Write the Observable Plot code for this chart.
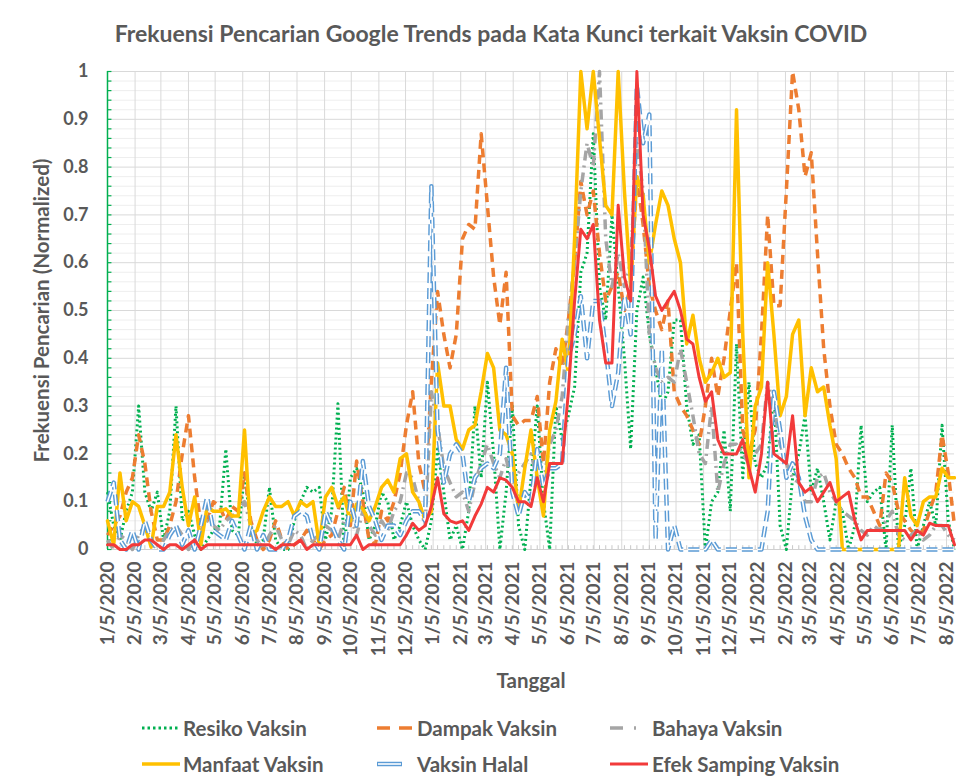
<!DOCTYPE html>
<html><head><meta charset="utf-8">
<script src="https://cdn.jsdelivr.net/npm/d3@7"></script>
<script src="https://cdn.jsdelivr.net/npm/@observablehq/plot@0.6"></script>
<style>
body{margin:0;background:#fff;}
#wrap{position:relative;width:956px;height:783px;font-family:Lato,"Open Sans",sans-serif;color:#595959;overflow:hidden;background:#fff}
#chart{position:absolute;left:0;top:0}
.leg{position:absolute;display:flex;align-items:center;font-weight:bold;font-size:20.5px;white-space:nowrap;height:26px}
</style></head>
<body><div id="wrap"><div id="chart"></div><div id="legend"></div></div>
<script>
// ---- data ----
const titleText = "Frekuensi Pencarian Google Trends pada Kata Kunci terkait Vaksin COVID";
const yTitle = "Frekuensi Pencarian (Normalized)";
const xTitle = "Tanggal";
const xTickLabels = ["1/5/2020","2/5/2020","3/5/2020","4/5/2020","5/5/2020","6/5/2020","7/5/2020","8/5/2020","9/5/2020","10/5/2020","11/5/2020","12/5/2020",
"1/5/2021","2/5/2021","3/5/2021","4/5/2021","5/5/2021","6/5/2021","7/5/2021","8/5/2021","9/5/2021","10/5/2021","11/5/2021","12/5/2021",
"1/5/2022","2/5/2022","3/5/2022","4/5/2022","5/5/2022","6/5/2022","7/5/2022","8/5/2022"];
const yTickLabels = ["0","0.1","0.2","0.3","0.4","0.5","0.6","0.7","0.8","0.9","1"];
const yMinorTicks = [0.02,0.04,0.06,0.08,0.12,0.14,0.16,0.18,0.22,0.24,0.26,0.28,0.32,0.34,0.36,0.38,0.42,0.44,0.46,0.48,0.52,0.54,0.56,0.58,0.62,0.64,0.66,0.68,0.72,0.74,0.76,0.78,0.82,0.84,0.86,0.88,0.92,0.94,0.96,0.98];

// weekly Google Trends values, week starting 2020-01-05
const resiko = [0.12,0.05,0.02,0.08,0.12,0.30,0.12,0.08,0.12,0.02,0.08,0.30,0.06,0.08,0.03,0.0,0.02,0.04,0.05,0.21,0.04,0.03,0.16,0.05,
0.01,0.02,0.13,0.02,0.0,0.0,0.06,0.10,0.13,0.12,0.13,0.02,0.08,0.305,0.0,0.15,0.17,0.12,0.02,0.05,
0.12,0.10,0.02,0.05,0.10,0.05,0.02,0.0,0.06,0.21,0.12,0.02,0.05,0.0,0.08,0.30,0.15,0.35,0.20,0.0,0.12,0.30,
0.05,0.0,0.15,0.30,0.10,0.0,0.30,0.23,0.28,0.34,0.58,0.62,0.87,0.55,0.48,0.70,0.55,0.40,0.21,0.50,0.57,0.45,0.38,0.30,0.33,
0.48,0.48,0.30,0.22,0.24,0.0,0.10,0.12,0.25,0.08,0.43,0.15,0.35,0.18,0.15,0.18,0.33,0.05,0.0,0.15,0.20,0.28,
0.12,0.17,0.10,0.02,0.10,0.08,0.0,0.05,0.26,0.10,0.12,0.13,0.0,0.26,0.0,0.05,0.17,0.0,0.05,0.10,0.05,0.26,0.06,0.0];
const dampak = [0.03,0.05,0.07,0.12,0.15,0.24,0.18,0.08,0.02,0.02,0.05,0.10,0.20,0.28,0.15,0.05,0.06,0.10,0.09,0.06,0.09,0.08,0.16,0.06,
0.02,0.0,0.02,0.06,0.02,0.0,0.01,0.02,0.04,0.02,0.0,0.02,0.03,0.08,0.13,0.05,0.185,0.10,0.02,0.01,
0.08,0.06,0.10,0.16,0.26,0.33,0.18,0.12,0.35,0.54,0.45,0.38,0.45,0.65,0.68,0.67,0.87,0.72,0.57,0.47,0.58,0.28,
0.26,0.27,0.27,0.32,0.18,0.35,0.42,0.38,0.48,0.60,0.77,0.70,0.75,0.62,0.52,0.55,0.58,0.50,0.55,0.78,0.68,0.55,0.50,0.46,0.52,
0.33,0.30,0.28,0.25,0.22,0.30,0.40,0.32,0.40,0.50,0.60,0.25,0.20,0.25,0.45,0.70,0.51,0.51,0.75,1.0,0.92,0.78,
0.83,0.62,0.42,0.30,0.22,0.20,0.17,0.15,0.11,0.11,0.08,0.05,0.16,0.14,0.08,0.06,0.04,0.03,0.04,0.08,0.12,0.24,0.16,0.05];
const bahaya = [0.02,0.0,0.03,0.02,0.0,0.03,0.05,0.02,0.0,0.02,0.04,0.05,0.03,0.0,0.02,0.04,0.06,0.05,0.04,0.06,0.07,0.08,0.10,0.05,
0.02,0.0,0.03,0.05,0.02,0.01,0.04,0.03,0.0,0.02,0.03,0.05,0.04,0.02,0.06,0.07,0.03,0.08,0.05,0.03,
0.06,0.04,0.08,0.10,0.16,0.15,0.10,0.05,0.33,0.26,0.17,0.14,0.11,0.12,0.08,0.14,0.18,0.22,0.18,0.15,0.19,0.14,
0.16,0.18,0.20,0.15,0.14,0.22,0.25,0.32,0.48,0.60,0.75,0.85,0.80,1.0,0.65,0.55,0.62,0.55,0.60,0.85,0.75,0.45,0.38,0.35,0.36,
0.35,0.42,0.35,0.28,0.20,0.18,0.30,0.12,0.18,0.22,0.22,0.20,0.18,0.20,0.22,0.35,0.30,0.22,0.18,0.15,0.14,0.10,
0.10,0.15,0.16,0.12,0.10,0.08,0.07,0.06,0.04,0.03,0.05,0.04,0.06,0.08,0.03,0.02,0.03,0.04,0.02,0.03,0.05,0.05,0.03,0.02];
const manfaat = [0.06,0.01,0.16,0.06,0.10,0.09,0.05,0.005,0.09,0.09,0.12,0.24,0.13,0.05,0.11,0.01,0.09,0.08,0.08,0.085,0.07,0.07,0.25,0.03,
0.04,0.08,0.11,0.09,0.09,0.10,0.07,0.10,0.09,0.10,0.01,0.11,0.13,0.09,0.11,0.06,0.095,0.085,0.06,0.09,
0.13,0.145,0.12,0.19,0.20,0.12,0.10,0.06,0.08,0.39,0.30,0.30,0.23,0.21,0.25,0.26,0.33,0.41,0.38,0.25,0.24,0.20,
0.08,0.17,0.25,0.15,0.07,0.25,0.31,0.44,0.37,0.65,1.0,0.88,1.0,0.86,0.72,0.70,1.0,0.75,0.55,0.78,0.74,0.60,0.68,0.75,0.72,
0.65,0.60,0.43,0.49,0.40,0.35,0.37,0.40,0.36,0.37,0.92,0.45,0.15,0.30,0.34,0.60,0.45,0.28,0.32,0.45,0.48,0.28,
0.38,0.33,0.34,0.26,0.19,0.0,0,0,0,0,0,0,0,0,0,0.15,0.07,0.05,0.10,0.11,0.11,0.17,0.15,0.15];
const halal = [0.10,0.14,0.02,0.0,0.04,0.0,0.06,0.02,0.0,0.0,0.03,0.05,0.01,0.04,0.0,0.05,0.11,0.04,0.03,0.02,0.06,0.03,0.0,0.05,
0.0,0.03,0.0,0.0,0.0,0.02,0.07,0.08,0.07,0.02,0.0,0.08,0.05,0.02,0.0,0.10,0.05,0.185,0.09,0.06,
0.02,0.05,0.05,0.03,0.06,0.08,0.08,0.06,0.76,0.25,0.14,0.20,0.22,0.20,0.10,0.15,0.17,0.18,0.17,0.20,0.38,0.12,
0.07,0.12,0.10,0.21,0.13,0.17,0.17,0.18,0.40,0.45,0.53,0.40,0.52,0.52,0.42,0.30,0.37,0.53,0.45,0.97,0.85,0.91,0.02,0.42,0.0,
0.05,0.0,0.0,0.0,0.0,0.0,0.02,0.0,0.0,0.0,0.0,0.0,0.0,0.0,0.0,0.08,0.33,0.25,0.15,0.18,0.15,0.07,
0.02,0,0,0,0,0,0,0,0,0,0,0,0,0,0,0,0,0,0,0,0,0,0,0];
const efek = [0.01,0.01,0.0,0.0,0.01,0.01,0.02,0.02,0.01,0.0,0.01,0.01,0.0,0.01,0.02,0.0,0.01,0.01,0.01,0.01,0.01,0.01,0.01,0.01,
0.01,0.01,0.01,0.0,0.01,0.01,0.01,0.02,0.0,0.01,0.01,0.01,0.01,0.01,0.01,0.01,0.03,0.0,0.01,0.01,
0.01,0.01,0.01,0.01,0.03,0.055,0.04,0.05,0.09,0.15,0.075,0.06,0.055,0.06,0.04,0.07,0.095,0.13,0.12,0.15,0.145,0.13,
0.10,0.10,0.09,0.15,0.10,0.18,0.18,0.18,0.33,0.52,0.67,0.65,0.68,0.48,0.39,0.39,0.72,0.57,0.52,1.0,0.70,0.63,0.53,0.50,0.52,
0.54,0.50,0.44,0.43,0.36,0.31,0.33,0.23,0.20,0.20,0.20,0.23,0.17,0.12,0.20,0.35,0.20,0.19,0.18,0.28,0.14,0.12,
0.13,0.10,0.12,0.14,0.10,0.11,0.12,0.06,0.02,0.04,0.04,0.04,0.04,0.04,0.04,0.04,0.02,0.04,0.03,0.055,0.05,0.05,0.05,0.01];

const seriesNames = ["Resiko Vaksin","Dampak Vaksin","Bahaya Vaksin","Manfaat Vaksin","Vaksin Halal","Efek Samping Vaksin"];

// ---- build ----
const dates = d3.utcWeek.range(new Date(Date.UTC(2020,0,5)), new Date(Date.UTC(2022,7,15)));
const rows = vals => vals.slice(0, dates.length).map((v,i)=>({date: dates[i], value: v}));
const tickDates = xTickLabels.map(s => { const [m,d,y] = s.split("/").map(Number); return new Date(Date.UTC(y, m-1, d)); });
const labelByTime = new Map(tickDates.map((d,i)=>[+d, xTickLabels[i]]));
const yTicks = yTickLabels.map(Number);
const gray = "#595959";

const styles = [
  {vals: resiko, stroke:"#00b050", w:3, dash:"2 3", cap:"butt", legDash:"2.5 3"},
  {vals: dampak, stroke:"#ed7d31", w:3.5, dash:"9 6", cap:"butt", legDash:"13 9"},
  {vals: bahaya, stroke:"#a5a5a5", w:3.5, dash:"10 5 2 5", cap:"butt", legDash:"13 11 2 20"},
  {vals: manfaat, stroke:"#ffc000", w:3.5, dash:null, cap:"round"},
  {vals: halal, stroke:"#5b9bd5", w:4.5, dash:"11 5", cap:"butt", double:true},
  {vals: efek, stroke:"#f23a3a", w:3, dash:null, cap:"round"}
];

const lineMarks = [];
for (const s of styles) {
  const data = rows(s.vals);
  const opts = {x:"date", y:"value", stroke:s.stroke, strokeWidth:s.w, strokeLinecap:s.cap, strokeLinejoin:"round"};
  if (s.dash) opts.strokeDasharray = s.dash;
  lineMarks.push(Plot.line(data, opts));
  if (s.double) lineMarks.push(Plot.line(data, {x:"date", y:"value", stroke:"white", strokeWidth:1.6, strokeDasharray:s.dash, strokeLinejoin:"round"}));
}

const chart = Plot.plot({
  width: 956, height: 700,
  marginLeft: 107, marginRight: 2, marginTop: 71, marginBottom: 151,
  x: {type:"utc", domain:[dates[0], dates[dates.length-1]]},
  y: {domain:[0,1]},
  style: {fontFamily:"Lato, 'Open Sans', sans-serif", color: gray, background:"white", overflow:"visible"},
  marks: [
    Plot.gridY({ticks: yMinorTicks, stroke:"#eeeeee", strokeOpacity:1}),
    Plot.gridY({ticks: yTicks, stroke:"#d9d9d9", strokeOpacity:1}),
    Plot.gridX({ticks: tickDates, stroke:"#d9d9d9", strokeOpacity:1}),
    Plot.ruleX(dates, {y1:0, y2:0.008, stroke:"#c8c8c8"}),
    Plot.ruleY([0], {stroke:"#d0d0d0"}),
    Plot.ruleY(yMinorTicks.concat(yTicks), {x1: dates[0], x2: d3.utcDay.offset(dates[0], 5), stroke:"#00b050", strokeWidth:1.2}),
    Plot.ruleX([dates[0]], {stroke:"#00b050", strokeWidth:1.5}),
    Plot.axisY({ticks: yTicks, tickFormat: d => yTickLabels[yTicks.indexOf(d)], tickSize:0, tickPadding:19, fontSize:18, fontWeight:"bold", fill:gray, label:null}),
    Plot.axisX({ticks: tickDates, tickFormat: d => labelByTime.get(+d), tickRotate:-90, tickSize:0, tickPadding:12, fontSize:19, fontWeight:"bold", fill:gray, label:null}),
    ...lineMarks,
    Plot.text([titleText], {frameAnchor:"top", dx:-40, dy:-37, lineAnchor:"middle", fontSize:23, fontWeight:"bold", fill:gray}),
    Plot.text([yTitle], {frameAnchor:"left", dx:-65, rotate:-90, lineAnchor:"middle", textAnchor:"middle", fontSize:20.5, fontWeight:"bold", fill:gray}),
    Plot.text([xTitle], {frameAnchor:"bottom", dy:132, lineAnchor:"middle", fontSize:20.5, fontWeight:"bold", fill:gray})
  ]
});
document.getElementById("chart").appendChild(chart);

// ---- legend ----
const legendPos = [
  {left:142, top:728, sw:36, text:183}, {left:377, top:728, sw:35, text:417}, {left:610, top:728, sw:27, text:652},
  {left:142, top:764, sw:38, text:183}, {left:377, top:764, sw:25, text:417}, {left:610, top:764, sw:38, text:652}
];
const legend = document.getElementById("legend");
styles.forEach((s, i) => {
  const p = legendPos[i];
  const div = document.createElement("div");
  div.className = "leg";
  div.style.left = p.left + "px";
  div.style.top = (p.top - 13) + "px";
  const w = p.sw;
  const dash = s.double ? null : (s.legDash || s.dash);
  let inner = `<line x1="0" y1="6" x2="${w}" y2="6" stroke="${s.stroke}" stroke-width="${s.w}" ${dash?`stroke-dasharray="${dash}"`:""} stroke-linecap="butt"/>`;
  if (s.double) inner += `<line x1="1" y1="6" x2="${w-1}" y2="6" stroke="white" stroke-width="1.6"/>`;
  div.innerHTML = `<svg width="${p.text - p.left}" height="12" style="overflow:visible;flex:none">${inner}</svg><span>${seriesNames[i]}</span>`;
  legend.appendChild(div);
});
</script></body></html>
